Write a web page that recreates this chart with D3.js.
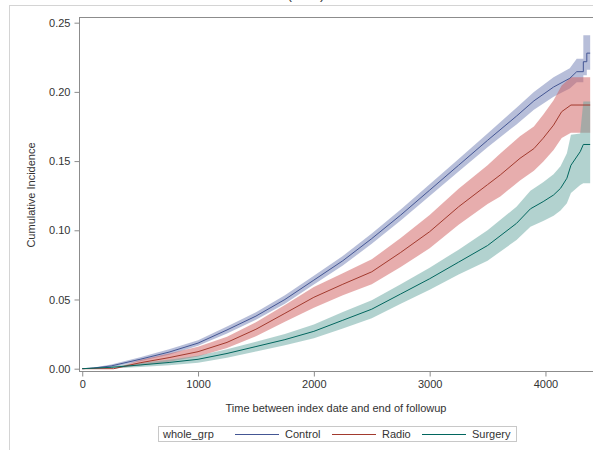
<!DOCTYPE html>
<html lang="en">
<head>
    <meta charset="UTF-8">
    <title>Cumulative Incidence</title>
    <script src="https://d3js.org/d3.v7.min.js"></script>
    <style>
        body { margin: 0; background: white; }
        svg text { font-family: "Liberation Sans", Arial, sans-serif; fill: #333; }
        .axis path, .axis line { stroke: #8c8c8c; }
        .axis text { font-size: 11px; fill: #333; }
    </style>
</head>
<body>
    <svg width="593" height="450"></svg>

    <script>
        // Control
        const ctlTime = [0, 100, 250, 500, 750, 1000, 1250, 1500, 1750, 2000, 2250, 2500, 2750, 3000, 3250, 3500, 3750, 3900, 4070, 4210, 4270, 4327, 4327, 4357, 4357, 4386];
        const ctlEst = [0, 0.0005, 0.002, 0.0068, 0.012, 0.0185, 0.028, 0.038, 0.050, 0.064, 0.078, 0.094, 0.111, 0.129, 0.147, 0.165, 0.1825, 0.1935, 0.2035, 0.2098, 0.2146, 0.2146, 0.2218, 0.2218, 0.228, 0.228];
        const ctlLow = [0, 0.0002, 0.001, 0.0053, 0.010, 0.0165, 0.0255, 0.0353, 0.047, 0.0608, 0.0745, 0.0903, 0.107, 0.1248, 0.1425, 0.160, 0.1765, 0.187, 0.1965, 0.2025, 0.207, 0.207, 0.212, 0.212, 0.216, 0.216];
        const ctlUpp = [0, 0.0008, 0.003, 0.0083, 0.014, 0.0205, 0.0305, 0.0407, 0.053, 0.0672, 0.0815, 0.0977, 0.115, 0.1332, 0.1515, 0.170, 0.1885, 0.200, 0.2105, 0.217, 0.224, 0.224, 0.241, 0.241, 0.241, 0.241];

        // Radio
        const radTime = [0, 270, 500, 750, 1000, 1250, 1500, 1750, 2000, 2250, 2500, 2750, 3000, 3250, 3500, 3610, 3780, 3900, 3980, 4070, 4140, 4220, 4386];
        const radEst = [0, 0, 0.0043, 0.008, 0.0123, 0.019, 0.0285, 0.040, 0.0516, 0.061, 0.070, 0.084, 0.099, 0.117, 0.133, 0.140, 0.152, 0.159, 0.1665, 0.176, 0.1857, 0.1905, 0.1905];
        const radLow = [0, 0, 0.0023, 0.005, 0.0088, 0.015, 0.0235, 0.034, 0.0441, 0.053, 0.061, 0.0735, 0.087, 0.104, 0.119, 0.1245, 0.136, 0.143, 0.1495, 0.158, 0.1667, 0.1705, 0.1705];
        const radUpp = [0, 0, 0.0063, 0.011, 0.0158, 0.023, 0.0335, 0.046, 0.0591, 0.069, 0.079, 0.0945, 0.111, 0.130, 0.147, 0.1555, 0.168, 0.175, 0.1835, 0.194, 0.2047, 0.2105, 0.2105];

        // Surgery
        const surTime = [0, 250, 500, 750, 1000, 1250, 1500, 1750, 2000, 2250, 2500, 2750, 3000, 3250, 3500, 3750, 3870, 3980, 4070, 4130, 4185, 4220, 4300, 4327, 4386];
        const surEst = [0, 0.001, 0.0027, 0.0045, 0.0068, 0.011, 0.016, 0.021, 0.027, 0.035, 0.043, 0.054, 0.065, 0.077, 0.089, 0.105, 0.1155, 0.1207, 0.1255, 0.1303, 0.1376, 0.147, 0.1568, 0.162, 0.162];
        const surLow = [0, 0.0002, 0.0012, 0.0025, 0.0043, 0.008, 0.0125, 0.017, 0.022, 0.029, 0.0365, 0.047, 0.057, 0.068, 0.078, 0.093, 0.1025, 0.1067, 0.1105, 0.1143, 0.1196, 0.127, 0.1328, 0.134, 0.134];
        const surUpp = [0, 0.0018, 0.0042, 0.0065, 0.0093, 0.014, 0.0195, 0.025, 0.032, 0.041, 0.0495, 0.061, 0.073, 0.086, 0.100, 0.117, 0.1285, 0.1347, 0.1405, 0.1463, 0.1556, 0.169, 0.170, 0.193, 0.193];

        const xTicks = [0, 1000, 2000, 3000, 4000];
        const yTicks = [0, 0.05, 0.10, 0.15, 0.20, 0.25];
        const groupNames = ["Control", "Radio", "Surgery"];
        const lineColors = ["#445694", "#A23A2E", "#01665E"];
        const fillColors = ["#6F7EB3", "#D05B5B", "#66A5A0"];

        const groups = [
            {time: ctlTime, est: ctlEst, low: ctlLow, upp: ctlUpp},
            {time: radTime, est: radEst, low: radLow, upp: radUpp},
            {time: surTime, est: surEst, low: surLow, upp: surUpp}
        ].map((g, i) => ({
            name: groupNames[i],
            pts: g.time.map((t, j) => ({t: t, est: g.est[j], low: g.low[j], upp: g.upp[j]}))
        }));

        const svg = d3.select("svg");
        const plot = {left: 79, top: 17, right: 597, bottom: 371};

        // outer frame (partly off-screen)
        svg.append("rect")
            .attr("x", 9.5).attr("y", 5.5)
            .attr("width", 700).attr("height", 600)
            .attr("fill", "none").attr("stroke", "#d4d4d4");

        // title, only its bottom edge shows in the crop
        svg.append("text")
            .attr("x", 306).attr("y", -1)
            .attr("text-anchor", "middle")
            .style("font-size", "14px")
            .text("(\u2003\u2003)");

        const x = d3.scaleLinear().domain([-28, 4445]).range([plot.left, plot.right]);
        const y = d3.scaleLinear().domain([-0.00166, 0.2541]).range([plot.bottom, plot.top]);

        svg.append("clipPath").attr("id", "clip")
            .append("rect")
            .attr("x", plot.left).attr("y", plot.top)
            .attr("width", plot.right - plot.left).attr("height", plot.bottom - plot.top);

        const g = svg.append("g").attr("clip-path", "url(#clip)");

        const area = d3.area()
            .x(d => x(d.t))
            .y0(d => y(d.low))
            .y1(d => y(d.upp));

        const line = d3.line()
            .x(d => x(d.t))
            .y(d => y(d.est));

        groups.forEach((grp, i) => {
            g.append("path")
                .datum(grp.pts)
                .attr("d", area)
                .attr("fill", fillColors[i])
                .attr("fill-opacity", 0.5);
        });
        groups.forEach((grp, i) => {
            g.append("path")
                .datum(grp.pts)
                .attr("d", line)
                .attr("fill", "none")
                .attr("stroke", lineColors[i])
                .attr("stroke-width", 1);
        });

        // plot frame
        svg.append("rect")
            .attr("x", plot.left + 0.5).attr("y", plot.top + 0.5)
            .attr("width", plot.right - plot.left).attr("height", plot.bottom - plot.top)
            .attr("fill", "none").attr("stroke", "#8c8c8c");

        svg.append("g")
            .attr("class", "axis")
            .attr("transform", `translate(0,${plot.bottom + 0.5})`)
            .call(d3.axisBottom(x).tickValues(xTicks).tickSize(5).tickPadding(4).tickFormat(d3.format("d")))
            .call(a => a.select(".domain").remove());

        svg.append("g")
            .attr("class", "axis")
            .attr("transform", `translate(${plot.left + 0.5},0)`)
            .call(d3.axisLeft(y).tickValues(yTicks).tickSize(5).tickPadding(4).tickFormat(d3.format(".2f")))
            .call(a => a.select(".domain").remove());

        svg.append("text")
            .attr("x", 336).attr("y", 412)
            .attr("text-anchor", "middle")
            .style("font-size", "11px")
            .text("Time between index date and end of followup");

        svg.append("text")
            .attr("transform", "translate(35,195) rotate(-90)")
            .attr("text-anchor", "middle")
            .style("font-size", "11px")
            .text("Cumulative Incidence");

        // legend
        const leg = svg.append("g");
        leg.append("rect")
            .attr("x", 158.5).attr("y", 426.5)
            .attr("width", 358).attr("height", 15)
            .attr("fill", "white").attr("stroke", "#c8c8c8");
        leg.append("text")
            .attr("x", 163).attr("y", 438)
            .style("font-size", "11px")
            .text("whole_grp");
        const legX = [235, 332, 422];
        groupNames.forEach((n, i) => {
            leg.append("line")
                .attr("x1", legX[i]).attr("x2", legX[i] + 44)
                .attr("y1", 434.5).attr("y2", 434.5)
                .attr("stroke", lineColors[i]).attr("stroke-width", 1);
            leg.append("text")
                .attr("x", legX[i] + 50).attr("y", 438)
                .style("font-size", "11px")
                .text(n);
        });
    </script>
</body>
</html>
